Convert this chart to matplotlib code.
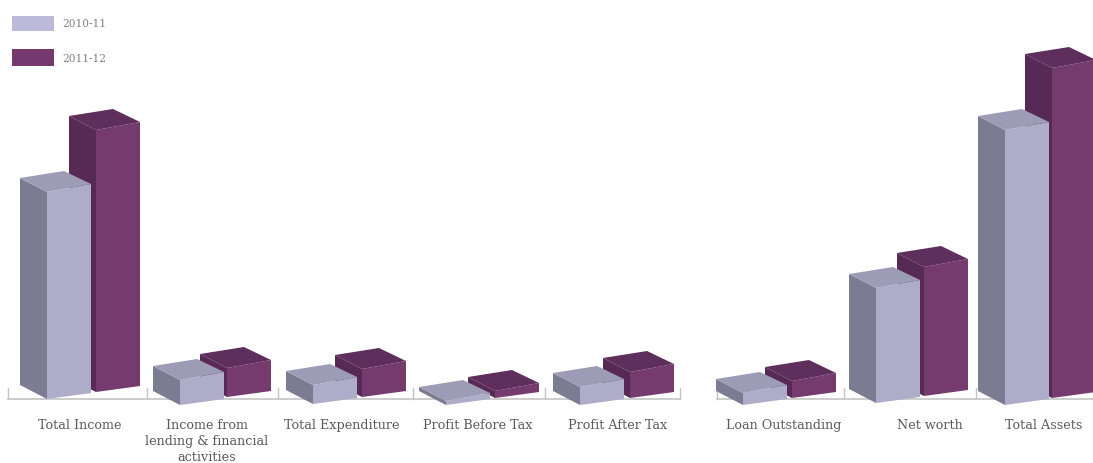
#!/usr/bin/env python3
"""Pseudo-3D grouped bars: financial highlights, 2010-11 vs 2011-12."""

import matplotlib
matplotlib.use("Agg")
import matplotlib.pyplot as plt
from matplotlib.patches import Polygon, Rectangle

categories = ["Total Income", "Income from\nlending & financial\nactivities",
              "Total Expenditure", "Profit Before Tax", "Profit After Tax",
              "Loan Outstanding", "Net worth", "Total Assets"]
years = ["2010-11", "2011-12"]
values_1011 = [207, 25, 19, 4, 18, 12, 115, 275]
values_1112 = [262, 29, 28, 7, 26, 17, 129, 330]

# layout, in figure pixels
LIGHT_X = [47, 180, 313, 446, 580, 743, 876, 1005]
DARK_X = [96, 227, 362, 495, 630, 792, 924, 1052]
LIGHT_BASE = [399, 405, 404, 405, 405, 405, 403, 405]
DARK_BASE = [392, 397, 397, 398, 398, 398, 396, 398]
LABEL_X = [80, 207, 342, 478, 618, 784, 930, 1044]
TICKS = [8, 147, 278, 413, 545, 680, 717, 844, 976]
BAR_W = 44
DEPTH_X = 27
DEPTH_TOP = 14
DEPTH_BOT = 14
LABEL_Y = 429
LINE_STEP = 16

LIGHT = {"front": "#aeadc9", "side": "#7b7b92", "top": "#9d9cb6"}
DARK = {"front": "#753a6e", "side": "#562a55", "top": "#5e2e5c"}
AXIS_COL = "#c4c4c4"


def bar3d(ax, x, base, h, cols):
    top = base - h
    fl, fr = (x, top), (x + BAR_W, top - 8)
    bl = (x - DEPTH_X, top - DEPTH_TOP)
    br = (x - DEPTH_X + BAR_W, top - DEPTH_TOP - 7)
    ax.add_patch(Polygon([bl, fl, (x, base), (x - DEPTH_X, base - DEPTH_BOT)],
                         fc=cols["side"], ec="none"))
    ax.add_patch(Polygon([fl, fr, (x + BAR_W, base - 6), (x, base)],
                         fc=cols["front"], ec="none"))
    ax.add_patch(Polygon([bl, br, fr, fl], fc=cols["top"], ec="none"))


fig = plt.figure(figsize=(10.93, 4.63), dpi=100)
ax = fig.add_axes([0, 0, 1, 1])
ax.set_xlim(0, 1093)
ax.set_ylim(463, 0)
ax.axis("off")

# category axis, broken before the balance sheet items
ax.plot([8, 680], [399, 399], color=AXIS_COL, lw=1.2, zorder=0)
ax.plot([717, 1093], [399, 399], color=AXIS_COL, lw=1.2, zorder=0)
for t in TICKS:
    ax.plot([t, t], [388, 399], color=AXIS_COL, lw=1, zorder=0)

for i in range(len(categories)):
    bar3d(ax, DARK_X[i], DARK_BASE[i], values_1112[i], DARK)
    bar3d(ax, LIGHT_X[i], LIGHT_BASE[i], values_1011[i], LIGHT)
    # one text per line so every label sits on the same baseline
    for j, line in enumerate(categories[i].split("\n")):
        ax.text(LABEL_X[i], LABEL_Y + j * LINE_STEP, line, ha="center", va="baseline",
                family="DejaVu Serif", fontsize=9.2, color="#5a5a5a")

# legend
ax.add_patch(Rectangle((12, 16), 42, 15, fc="#bdb9da", ec="none"))
ax.add_patch(Rectangle((12, 49), 42, 17, fc="#743a70", ec="none"))
ax.text(62, 24, years[0], va="center", family="DejaVu Serif", fontsize=7.6, color="#808080")
ax.text(62, 59, years[1], va="center", family="DejaVu Serif", fontsize=7.6, color="#808080")

fig.savefig("out.png", dpi=100)
plt.close(fig)
